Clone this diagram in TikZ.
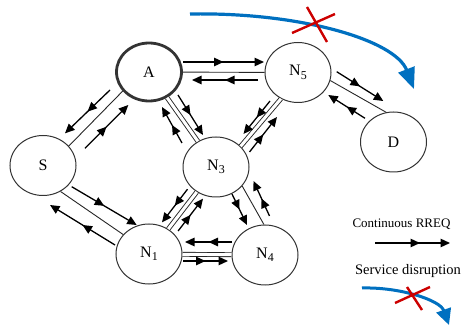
\documentclass[tikz,border=0pt]{standalone}
\usepackage{fontspec}
\setmainfont{Liberation Serif}
\usetikzlibrary{arrows.meta,calc,decorations.markings,shapes.geometric}
\definecolor{flowblue}{RGB}{0,112,192}
\definecolor{cutred}{RGB}{204,0,0}
% node label with a lowered index
\newcommand\nsub[1]{N\raisebox{-3.5pt}{\fontsize{12}{12}\selectfont #1}}

\begin{document}
\begin{tikzpicture}[x=1pt,y=-1pt,
  station/.style={ellipse, draw=black!80, line width=1pt, fill=white,
    minimum width=66pt, minimum height=60pt, inner sep=0pt,
    font=\fontsize{16}{16}\selectfont},
  hub/.style={station, line width=2.8pt, minimum width=65pt, minimum height=58pt},
  link/.style={draw=black!85, line width=0.9pt},
  dlink/.style={link, double distance=3pt},
  rreq/.style={line width=1.3pt, -{Triangle[length=9.5pt,width=8.5pt]},
    postaction={decorate},
    decoration={markings, mark=at position #1 with {\arrow{Triangle[length=9.5pt,width=8.5pt]}}}},
  rreq/.default=0.5,
  flow/.style={flowblue, line width=3.2pt},
  cut/.style={cutred, line width=2.4pt}
]
\useasboundingbox (0,0) rectangle (464,326);

% stations
\node[hub]     (A)  at (149,72)    {A};
\node[station] (S)  at (43,165.5)  {S};
\node[station] (N5) at (298,72.5)  {\nsub{5}};
\node[station] (D)  at (393.5,142) {D};
\node[station] (N3) at (216,167)   {\nsub{3}};
\node[station] (N1) at (149,254)   {\nsub{1}};
\node[station] (N4) at (265,255)   {\nsub{4}};

% links
\draw[link]  (A) -- (N5);
\draw[link]  (A.216) -- (S.37);
\draw[dlink] (A) -- (N3);
\draw[dlink] (N5.237) -- (N3.40);
\draw[link]  (N5.-14) -- (D.104);
\draw[link]  (S.-56) -- (N1.143);
\draw[dlink] (N3) -- (N1);
\draw[link]  (N3.-36) -- (N4.92);
\draw[dlink] (N1) -- (N4);

% route requests in both directions along every link
\draw[rreq] ($(A)+(34,-10)$)     -- ($(N5)+(-34,-10.5)$);
\draw[rreq] ($(N5)+(-40,7.5)$)   -- ($(A)+(43,8)$);
\draw[rreq] ($(A)+(-39,18)$)     -- ($(S)+(22,-32.2)$);
\draw[rreq] ($(S)+(42,-17.2)$)   -- ($(A)+(-20.7,33)$);
\draw[rreq] ($(A)+(29,23)$)      -- ($(N3)+(-13,-32)$);
\draw[rreq] ($(N3)+(-34,-24)$)   -- ($(A)+(13,35)$);
\draw[rreq] ($(N5)+(-28,28.5)$)  -- ($(N3)+(27.5,-33)$);
\draw[rreq] ($(N3)+(33.5,-15)$)  -- ($(N5)+(-21,44.5)$);
\draw[rreq] ($(N5)+(38.7,-0.8)$) -- ($(D)+(-10.2,-41)$);
\draw[rreq] ($(D)+(-28.5,-23.7)$) -- ($(N5)+(30.3,22.5)$);
\draw[rreq] ($(S)+(28.7,21.2)$)  -- ($(N1)+(-12.3,-29)$);
\draw[rreq] ($(N1)+(-34,-9)$)    -- ($(S)+(7,39.5)$);
\draw[rreq] ($(N3)+(-28.5,22.2)$) -- ($(N1)+(13,-31.6)$);
\draw[rreq] ($(N1)+(29.1,-23)$)  -- ($(N3)+(-13,31.6)$);
\draw[rreq] ($(N3)+(16,27)$)     -- ($(N4)+(-18,-30)$);
\draw[rreq] ($(N4)+(4.5,-39)$)   -- ($(N3)+(37.5,14)$);
\draw[rreq] ($(N4)+(-33,-13)$)   -- ($(N1)+(36,-12)$);
\draw[rreq] ($(N1)+(34,7)$)      -- ($(N4)+(-37,6)$);

% interrupted service path
\coordinate (flowS) at (190,14);
\coordinate (flowE) at (414,89);
\draw[flow, -{Triangle[length=21pt,width=17pt]}]
  (flowS) .. controls (300,12) and (395,40) .. (flowE);
\draw[cut] (292,33) -- (335,14) (307,7) -- (327,42);

% legend
\node[anchor=base, font=\fontsize{13}{13}\selectfont] (keyRREQ) at (401.5,228) {Continuous RREQ};
\coordinate (keyA) at (375,243);
\coordinate (keyB) at (450,243);
\draw[rreq=0.6] (keyA) -- (keyB);
\node[anchor=base, font=\fontsize{14.5}{14.5}\selectfont] (keyCut) at (408,275) {Service disruption};
\coordinate (keyS) at (362,288);
\coordinate (keyE) at (449,325);
\draw[flow, line width=3pt, -{Triangle[length=16pt,width=15pt]}]
  (keyS) .. controls (400,287) and (440,300) .. (keyE);
\draw[cut] (395,303) -- (430,287) (407,287) -- (422,310);
\end{tikzpicture}
\end{document}
